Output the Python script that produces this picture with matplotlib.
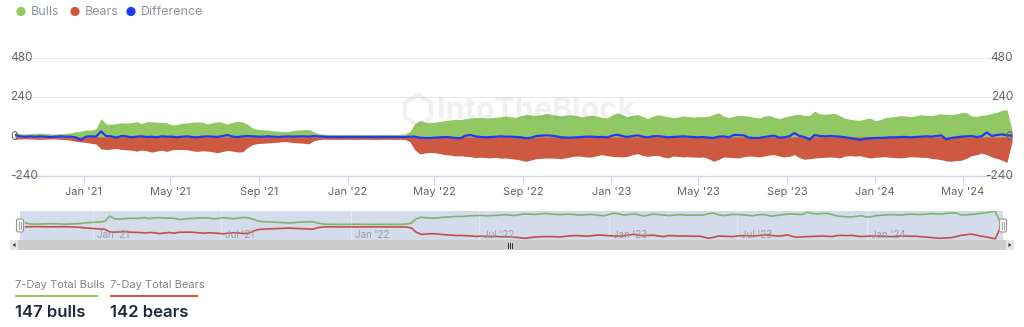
import matplotlib
matplotlib.use("Agg")
import matplotlib.pyplot as plt
import matplotlib.dates as mdates
from matplotlib.patches import Rectangle, FancyBboxPatch, Circle, RegularPolygon, Polygon
from matplotlib.transforms import blended_transform_factory
import numpy as np
import pandas as pd

plt.rcParams['font.family'] = ['Inter', 'DejaVu Sans']

# ---------------- data ----------------
start_date = "2020-09-28"
n_weeks = 198

bulls = [28, 18, 16, 18, 20, 21, 19, 17, 16, 18, 20,
         24, 30, 34, 40, 40, 48, 110, 78, 75, 80,
         85, 83, 85, 92, 80, 90, 92, 88, 86, 85,
         72, 74, 82, 84, 88, 90, 88, 78, 84, 92,
         86, 78, 88, 94, 90, 74, 52, 44, 42, 40,
         36, 34, 30, 32, 38, 40, 42, 44, 30, 18, 15,
         14, 14, 13, 14, 14, 15, 14, 14, 13, 14, 14, 14, 15, 14, 14, 16,
         30, 80, 98, 90, 86, 88, 94, 98, 102, 106,
         104, 110, 114, 116, 118, 114, 116, 118, 122, 126,
         122, 117, 128, 136, 132, 130, 134, 142, 136, 130,
         126, 132, 134, 128, 122, 126, 130, 126, 118, 114,
         130, 146, 134, 122, 130, 136, 124, 110, 124, 134, 128, 122,
         116, 120, 126, 124, 120, 122, 122, 124, 136, 146,
         126, 116, 124, 130, 128, 126, 118, 114, 124, 130,
         118, 110, 120, 126, 134, 136, 130, 130, 156, 140, 136, 140, 142,
         128, 112, 106, 102, 100, 108, 114, 98, 104, 116,
         120, 124, 128, 126, 122, 128, 134, 130, 128, 134,
         140, 136, 134, 140, 146, 148, 126, 124, 130, 134,
         142, 148, 160, 166, 40]

bears = [15, 14, 13, 14, 15, 16, 15, 14, 14, 16, 18,
         22, 28, 32, 35, 40, 45, 75, 78, 76, 72,
         78, 80, 82, 88, 82, 85, 95, 88, 82, 90,
         80, 78, 78, 80, 86, 90, 86, 88, 92, 98,
         90, 84, 88, 94, 92, 65, 48, 42, 40, 38,
         36, 34, 30, 32, 36, 38, 40, 44, 26, 18, 15,
         16, 16, 17, 16, 16, 17, 16, 16, 16, 17, 16, 16, 16, 17, 16, 17,
         30, 80, 105, 100, 96, 98, 104, 110, 112, 118,
         116, 120, 122, 128, 125, 128, 130, 126, 132, 130,
         134, 138, 144, 150, 142, 134, 132, 130, 130, 132,
         134, 128, 122, 118, 120, 124, 124, 116, 110, 116,
         120, 122, 124, 120, 110, 104, 114, 120, 116, 114, 124, 130,
         118, 120, 124, 122, 124, 126, 124, 134, 150, 140,
         124, 126, 128, 130, 122, 118, 120, 124, 118, 112,
         110, 118, 124, 120, 110, 128, 138, 134, 130, 128, 126, 124, 126,
         130, 118, 116, 118, 116, 124, 130, 126, 124, 122,
         126, 128, 130, 126, 122, 124, 126, 126, 132, 136,
         140, 148, 150, 146, 144, 132, 116, 110, 100, 110,
         124, 132, 144, 156, 32]

difference = [10, 2, 0, 2, 0, 2, 0, -2, 0, 2, 0, 0, -4,
              -20, 0, 2, 0, 32, 4, 2, -6, 4, 2, -4, 0, 2, -2, 0, -4, 2, 0,
              0, -4, 0, 2, -2, -4, 0, 2, 0, -2, 4, 10, 0, -2, 2, 4, 2, 0, 0, 2,
              0, -2, 0, 2, 0, 2, 2, 0, 4, 2, 0,
              -2, -2, -2, -2, -2, -2, -2, -2, -2, -2, -2, -2, -2, -2, -2, -2,
              0, 0, -6, -8, -8, -6, -4, -2, -4, -8, -10, 6, 10, 2, -2, -4, -2, 0, 2, 0,
              0, -2, -4, -10, -6, 4, 6, 8, 6, 2, -4, -6, -6, -4, -2, 0, 0, -2, -2, -4,
              6, 12, 4, -2, 4, 8, 0, -4, 2, 4, 0, -4,
              -2, 0, 2, 0, -2, -4, -2, -6, -8, 0, 2, -4, 10, 10, 8, -6, -8, -8, -2, 2,
              6, -6, -4, 2, 22, 4, -2, -18, 10, 4, 2, 4, 2,
              0, -4, -8, -14, -20, -12, -10, -8, -8, -6, -4, -4, -2, -2, -4, -2, 0, 2, 0, 4,
              8, -16, -8, -4, 0, 2, 4, -2, 2, 26, 4, 10, 14, 8, 6]

main_ticks = ["2021-01-01", "2021-05-01", "2021-09-01", "2022-01-01", "2022-05-01",
              "2022-09-01", "2023-01-01", "2023-05-01", "2023-09-01", "2024-01-01",
              "2024-05-01"]
main_tick_labels = ["Jan '21", "May '21", "Sep '21", "Jan '22", "May '22", "Sep '22",
                    "Jan '23", "May '23", "Sep '23", "Jan '24", "May '24"]
nav_ticks = ["2021-01-01", "2021-07-01", "2022-01-01", "2022-07-01", "2023-01-01",
             "2023-07-01", "2024-01-01"]
nav_tick_labels = ["Jan '21", "Jul '21", "Jan '22", "Jul '22", "Jan '23", "Jul '23", "Jan '24"]
y_ticks = [480, 240, 0, -240]
y_tick_labels = ["480", "240", "0", "-240"]
series_names = ["Bulls", "Bears", "Difference"]
stat_titles = ["7-Day Total Bulls", "7-Day Total Bears"]
stat_values = ["147 bulls", "142 bears"]

# ---------------- style ----------------
C_BULL = "#91c864"
C_BEAR = "#cd5941"
C_DIFF = "#1d3cf2"
C_NAV_BULL = "#7fb56a"
C_NAV_BEAR = "#c2504a"
TXT = "#666666"

W, H = 1024, 327
dates = pd.date_range(start_date, periods=n_weeks, freq="7D")
b = np.array(bulls, dtype=float)
r = np.array(bears, dtype=float)
d = np.array(difference, dtype=float)

fig = plt.figure(figsize=(W / 100, H / 100), dpi=100)

def fx(px):
    return px / W

def fy(py):
    return 1 - py / H

# ---------------- main chart ----------------
ax = fig.add_axes([fx(15), fy(176), fx(1012 - 15), (176 - 58) / H])
ax.fill_between(dates, 0, b, color=C_BULL, lw=0, zorder=2)
ax.fill_between(dates, 0, -r, color=C_BEAR, lw=0, zorder=2)
ax.plot(dates, d, color=C_DIFF, lw=1.6, zorder=3)
ax.set_xlim(dates[0], dates[-1])
ax.set_ylim(-240, 480)
for yv in [240, 480]:
    ax.axhline(yv, color="#ebebeb", lw=0.8, zorder=1)
for s in ["top", "left", "right"]:
    ax.spines[s].set_visible(False)
ax.spines["bottom"].set_color("#ccd6eb")
ax.spines["bottom"].set_linewidth(1)
ax.set_yticks([])
ax.set_xticks(pd.to_datetime(main_ticks))
ax.set_xticklabels(main_tick_labels)
ax.tick_params(axis="x", length=6, color="#ccd6eb", labelsize=8, labelcolor=TXT, pad=2)
ax.patch.set_alpha(0)

tr = blended_transform_factory(fig.transFigure, ax.transData)
for yv, lab in zip(y_ticks, y_tick_labels):
    ax.text(fx(10), yv, lab, transform=tr, ha="left", va="center", fontsize=8.5, color=TXT,
            zorder=5)
    ax.text(fx(1013), yv, lab, transform=tr, ha="right", va="center", fontsize=8.5, color=TXT,
            zorder=5)

# ---------------- navigator ----------------
nav = fig.add_axes([fx(20), fy(240), fx(1003 - 20), 29 / H])
nav.set_facecolor("#d4dbea")
nav.plot(dates, b, color=C_NAV_BULL, lw=1.2)
nav.plot(dates, -r, color=C_NAV_BEAR, lw=1.2)
nav.set_xlim(dates[0] - pd.Timedelta(days=8), dates[-1] + pd.Timedelta(days=4))
nav.set_ylim(-170, 170)
for s in nav.spines.values():
    s.set_visible(False)
nav.set_yticks([])
nav.set_xticks([])
ntr = blended_transform_factory(nav.transData, nav.transAxes)
for t, lab in zip(pd.to_datetime(nav_ticks), nav_tick_labels):
    nav.axvline(t, color="#e2e7f1", lw=0.8, zorder=0)
    nav.text(t + pd.Timedelta(days=6), 0.16, lab, transform=ntr, ha="left", va="center",
             fontsize=7, color="#9a9a9a")

# ---------------- overlay (legend, scrollbar, stats, watermark) ----------------
ov = fig.add_axes([0, 0, 1, 1], zorder=10)
ov.set_xlim(0, W)
ov.set_ylim(H, 0)
ov.axis("off")
ov.patch.set_alpha(0)

# legend
leg_x = [21, 75, 131]
leg_c = [C_BULL, C_BEAR, C_DIFF]
for x0, c, name in zip(leg_x, leg_c, series_names):
    ov.add_patch(Circle((x0, 11.5), 4.6, color=c, lw=0))
    ov.text(x0 + 10, 12, name, ha="left", va="center", fontsize=9, color="#8f959e")

# watermark
ov.text(437, 111, "IntoTheBlock", ha="left", va="center", fontsize=22, fontweight="bold",
        color="#7d7d7d", alpha=0.11)
ov.add_patch(RegularPolygon((418, 110), 6, radius=15, orientation=0, fill=False,
                            ec="#7d7d7d", lw=3, alpha=0.11))

# navigator handles
for hx in [20, 1003]:
    ov.add_patch(FancyBboxPatch((hx - 3.5, 219), 7, 13, boxstyle="round,pad=0,rounding_size=1.5",
                                fc="#f2f2f2", ec="#999999", lw=0.8))
    ov.plot([hx - 1, hx - 1], [222, 229], color="#999999", lw=0.6)
    ov.plot([hx + 1, hx + 1], [222, 229], color="#999999", lw=0.6)

# scrollbar
ov.add_patch(Rectangle((10, 240), 1004, 10, fc="#f2f2f2", lw=0))
ov.add_patch(Rectangle((18, 240), 988, 10, fc="#cccccc", lw=0))
ov.add_patch(Rectangle((10, 240), 8, 10, fc="#e6e6e6", lw=0))
ov.add_patch(Rectangle((1006, 240), 8, 10, fc="#e6e6e6", lw=0))
ov.add_patch(Polygon([[15.5, 243], [15.5, 247], [12.5, 245]], closed=True, fc="#333333", lw=0))
ov.add_patch(Polygon([[1008.5, 243], [1008.5, 247], [1011.5, 245]], closed=True, fc="#333333", lw=0))
for gx in [508, 510, 512]:
    ov.plot([gx, gx], [243, 247.5], color="#333333", lw=0.7)

# bottom stats
stat_x = [15, 110]
stat_w = [83, 88]
stat_c = [C_BULL, C_BEAR]
for x0, w, c, t, v in zip(stat_x, stat_w, stat_c, stat_titles, stat_values):
    ov.text(x0, 284.5, t, ha="left", va="center", fontsize=8, color="#7f858d")
    ov.plot([x0, x0 + w], [296, 296], color=c, lw=1.5, solid_capstyle="butt")
    ov.text(x0, 312.5, v, ha="left", va="center", fontsize=12, fontweight="semibold",
            color="#1f2937")

fig.savefig("out.png", dpi=100)
